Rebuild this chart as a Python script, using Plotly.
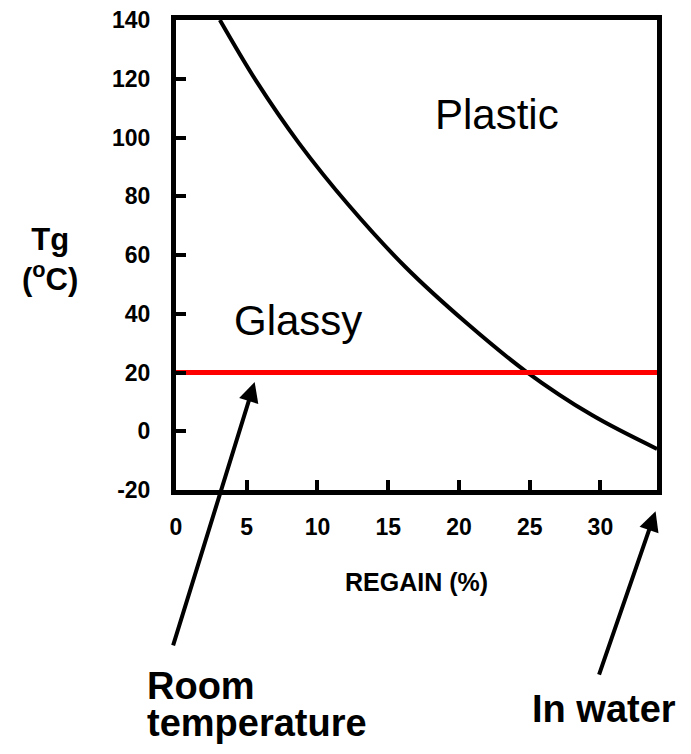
import plotly.graph_objects as go

# Tg curve vs. moisture regain
regain = [3.1, 5.7, 8.7, 12.2, 16.2, 20.5, 24.7, 29.4, 34.0]
tg = [140, 119, 98, 77, 56, 37, 20.5, 5.5, -6]

# room temperature line
room_x = [0, 34]
room_y = [20, 20]

x_ticks = [0, 5, 10, 15, 20, 25, 30]
y_ticks = [-20, 0, 20, 40, 60, 80, 100, 120, 140]
y_labels = ['-20', '0', '20', '40', '60', '80', '100', '120', '140']

FONT = "Arial, 'Liberation Sans', sans-serif"

fig = go.Figure()
fig.add_trace(go.Scatter(x=regain, y=tg, mode='lines',
                         line=dict(color='black', width=4, shape='spline', smoothing=1.0),
                         showlegend=False, hoverinfo='skip'))
fig.add_trace(go.Scatter(x=room_x, y=room_y, mode='lines',
                         line=dict(color='#ff0000', width=5),
                         showlegend=False, hoverinfo='skip'))

# page body adds an 8px offset, so the figure is a bit smaller than the window
fig.update_layout(
    width=683, height=746,
    margin=dict(l=168, r=34, t=12, b=264),
    paper_bgcolor='white', plot_bgcolor='white',
    font=dict(family=FONT, color='black'),
)
axis_style = dict(ticks='inside', ticklen=10, tickwidth=4, tickcolor='black',
                  showline=True, linewidth=5, linecolor='black', mirror=True,
                  showgrid=False, zeroline=False, automargin=False, layer='above traces',
                  ticklabeloverflow='allow',
                  tickfont=dict(size=23, weight='bold', family=FONT))
fig.update_xaxes(range=[0, 34], tickvals=x_ticks, ticklabelstandoff=12, **axis_style)
fig.update_yaxes(range=[-20, 140], tickvals=y_ticks, ticktext=y_labels,
                 ticklabelstandoff=16, **axis_style)

annots = [
    dict(text='Plastic', x=22.7, y=107.7, xref='x', yref='y', font=dict(size=42)),
    dict(text='Glassy', x=8.6, y=37.6, xref='x', yref='y', font=dict(size=42)),
    dict(text='<b>Tg</b><br><b>(<sup>o</sup>C)</b>', x=-0.261, y=0.49, xref='paper', yref='paper',
         font=dict(size=31)),
    dict(text='<b>REGAIN (%)</b>', x=0.5, y=-0.195, xref='paper', yref='paper', font=dict(size=25)),
    dict(text='<b>Room</b>', x=-0.064, y=-0.418, xref='paper', yref='paper', xanchor='left',
         font=dict(size=38)),
    dict(text='<b>temperature</b>', x=-0.064, y=-0.496, xref='paper', yref='paper', xanchor='left',
         font=dict(size=38)),
    dict(text='<b>In water</b>', x=0.89, y=-0.467, xref='paper', yref='paper', font=dict(size=38)),
]
for a in annots:
    a.setdefault('xanchor', 'center')
    a['yanchor'] = 'middle'
    a['showarrow'] = False
    fig.add_annotation(**a)

# arrows
fig.add_annotation(x=5.56, y=16.8, xref='x', yref='y', ax=-82, ay=265, text='',
                   showarrow=True, arrowhead=2, arrowsize=1, arrowwidth=4, arrowcolor='black',
                   standoff=0)
fig.add_annotation(x=0.997, y=-0.045, xref='paper', yref='paper', ax=-57, ay=165, text='',
                   showarrow=True, arrowhead=2, arrowsize=1, arrowwidth=4, arrowcolor='black',
                   standoff=0)

fig.write_html("out.html")
